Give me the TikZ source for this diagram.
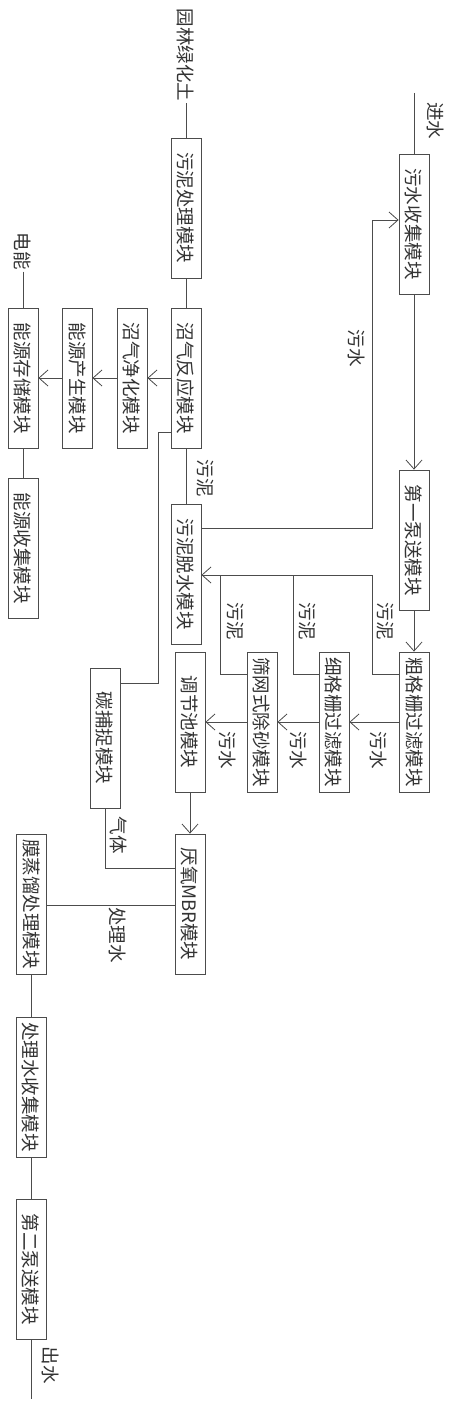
\documentclass[tikz,border=0pt]{standalone}
\usepackage{fontspec}
\usepackage{graphicx}
\newfontfamily\cjk{Noto Sans CJK SC}
\usetikzlibrary{arrows.meta}
\begin{document}
\begin{tikzpicture}[x=1pt,y=-1pt,
  every node/.style={font=\cjk\fontsize{18.5}{20}\selectfont, text=black!80},
  box/.style={draw=black!70, line width=0.8pt, minimum width=30pt, minimum height=140pt, inner sep=0pt},
  ln/.style={draw=black!70, line width=0.8pt},
  arr/.style={ln, -{Straight Barb[length=9pt,width=16pt]}},
  lbl/.style={inner sep=2pt}]
\path[use as bounding box] (0,0) rectangle (450,1407);

% boxes
\node[box] (sj) at (414,224) {\rotatebox{-90}{污水收集模块}};
\node[box] (nl) at (186,208) {\rotatebox{-90}{污泥处理模块}};
\node[box] (p1) at (414,540) {\rotatebox{-90}{第一泵送模块}};
\node[box] (cg) at (414,722) {\rotatebox{-90}{粗格栅过滤模块}};
\node[box] (xg) at (334,722) {\rotatebox{-90}{细格栅过滤模块}};
\node[box] (sw) at (262,722) {\rotatebox{-90}{筛网式除砂模块}};
\node[box] (tj) at (190,722) {\rotatebox{-90}{调节池模块}};
\node[box] (zr) at (186,378) {\rotatebox{-90}{沼气反应模块}};
\node[box] (jh) at (132,378) {\rotatebox{-90}{沼气净化模块}};
\node[box] (cs) at (77,378) {\rotatebox{-90}{能源产生模块}};
\node[box] (cc) at (23,378) {\rotatebox{-90}{能源存储模块}};
\node[box] (sc) at (23,548) {\rotatebox{-90}{能源收集模块}};
\node[box] (ts) at (186,574) {\rotatebox{-90}{污泥脱水模块}};
\node[box] (tb) at (105,738) {\rotatebox{-90}{碳捕捉模块}};
\node[box] (mbr) at (190,904) {\rotatebox{-90}{厌氧MBR模块}};
\node[box] (mz) at (31,904) {\rotatebox{-90}{膜蒸馏处理模块}};
\node[box] (cl) at (31,1087) {\rotatebox{-90}{处理水收集模块}};
\node[box] (p2) at (31,1269) {\rotatebox{-90}{第二泵送模块}};

% end labels
\node[lbl] (yl) at (186,55) {\rotatebox{-90}{园林绿化土}};
\node[lbl] (dn) at (23,251) {\rotatebox{-90}{电能}};
\node[lbl] (jsl) at (435,121) {\rotatebox{-90}{进水}};
\node[lbl] (csl) at (51,1365) {\rotatebox{-90}{出水}};
\coordinate (in) at (414,93);
\coordinate (out) at (31,1399);

% connector labels
\node[lbl] (l1) at (356,348) {\rotatebox{-90}{污水}};
\node[lbl] (l2) at (205,478) {\rotatebox{-90}{污泥}};
\node[lbl] (l3) at (385,621) {\rotatebox{-90}{污泥}};
\node[lbl] (l4) at (307,621) {\rotatebox{-90}{污泥}};
\node[lbl] (l5) at (235,621) {\rotatebox{-90}{污泥}};
\node[lbl] (l6) at (378,750) {\rotatebox{-90}{污水}};
\node[lbl] (l7) at (298,750) {\rotatebox{-90}{污水}};
\node[lbl] (l8) at (227,750) {\rotatebox{-90}{污水}};
\node[lbl] (l9) at (119,835) {\rotatebox{-90}{气体}};
\node[lbl] (l10) at (118,935) {\rotatebox{-90}{处理水}};

% elbow coordinates
\coordinate (a1) at (372,528);
\coordinate (a2) at (372,220);
\coordinate (b1) at (158,432);
\coordinate (b2) at (158,683);
\coordinate (s1) at (372,674);
\coordinate (s2) at (293,674);
\coordinate (s3) at (220,674);
\coordinate (sm) at (372,575);
\coordinate (g1) at (105,868);

% connectors
\draw[ln] (in) -- (sj.north);
\draw[arr] (sj.south) -- (p1.north);
\draw[arr] (p1.south) -- (cg.north);
\draw[arr] (cg.west) -- (xg.east);
\draw[arr] (xg.west) -- (sw.east);
\draw[arr] (sw.west) -- (tj.east);
\draw[arr] (tj.south) -- (mbr.north);
\draw[ln] (mbr.west |- 0,905) -- (mz.east |- 0,905);
\draw[ln] (mz.south) -- (cl.north);
\draw[ln] (cl.south) -- (p2.north);
\draw[ln] (p2.south) -- (out);

\draw[ln] (yl.south) -- (nl.north);
\draw[ln] (nl.south) -- (zr.north);
\draw[ln] (zr.south) -- (ts.north);
\draw[arr] (zr.west) -- (jh.east);
\draw[arr] (jh.west) -- (cs.east);
\draw[arr] (cs.west) -- (cc.east);
\draw[ln] (dn.south) -- (cc.north);
\draw[ln] (cc.south) -- (sc.north);

\draw[arr] (ts.east |- a1) -- (a1) -- (a2) -- (sj.west |- a2);
\draw[ln] (zr.west |- b1) -- (b1) -- (b2) -- (tb.east |- b2);
\draw[ln] (tb.south) -- (tb.south |- g1) -- (mbr.west |- g1);

\draw[arr] (cg.west |- s1) -- (s1) -- (sm) -- (ts.east |- sm);
\draw[ln] (xg.west |- s1) -- (s2) -- (s2 |- sm);
\draw[ln] (sw.west |- s1) -- (s3) -- (s3 |- sm);
\end{tikzpicture}
\end{document}
